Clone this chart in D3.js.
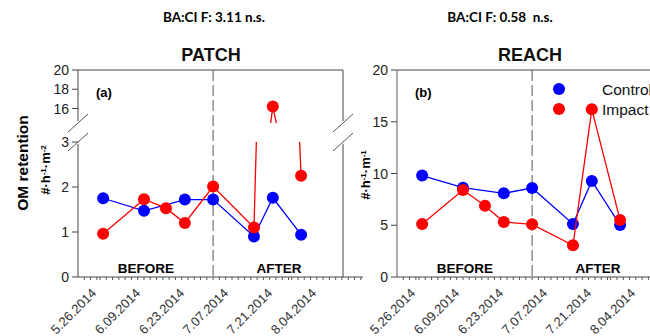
<!DOCTYPE html>
<html>
<head>
<meta charset="utf-8">
<script src="https://cdn.jsdelivr.net/npm/d3@7"></script>
<style>
  body { margin: 0; background: #fff; }
  svg text { font-family: "Liberation Sans", Arial, sans-serif; }
</style>
</head>
<body>
<svg id="chart" width="650" height="336"></svg>
<script>
/*
  BACI time series, patch and reach scale
*/

var sampleDates = ["2014-06-02", "2014-06-15", "2014-06-22", "2014-06-28", "2014-07-07", "2014-07-20", "2014-07-26", "2014-08-04"],
    patchControl = [1.75, 1.47, null, 1.72, 1.72, 0.90, 1.76, 0.94],
    patchImpact = [0.96, 1.73, 1.53, 1.20, 2.01, 1.10, 16.2, 2.25],
    reachControl = [9.80, 8.63, null, 8.09, 8.60, 5.12, 9.28, 5.02],
    reachImpact = [5.12, 8.40, 6.89, 5.31, 5.09, 3.06, 16.2, 5.50],
    tickLabels = ["5.26.2014", "6.09.2014", "6.23.2014", "7.07.2014", "7.21.2014", "8.04.2014"],
    patchLowTicks = [0, 1, 2, 3],
    patchHighTicks = [16, 18, 20],
    reachTicks = [0, 5, 10, 15, 20],
    impactStart = "2014-07-07",
    seriesNames = ["Control", "Impact"],
    seriesColors = ["#0000ff", "#ff0000"];

var plotTop = 70, plotBottom = 277, plotWidth = 265,
    breakLow = 142, breakHigh = 123,
    parseIso = d3.timeParse("%Y-%m-%d"),
    parseTick = d3.timeParse("%m.%d.%Y"),
    svg = d3.select("#chart");

var x = d3.scaleTime()
  .domain([new Date(2014, 4, 25), new Date(2014, 7, 17, 8)])
  .range([0, plotWidth]);

function toPoints(values){
  return values.map(function(v, i){ return {date: parseIso(sampleDates[i]), v: v}; })
    .filter(function(d){ return d.v != null; });
}

function drawXAxis(g){
  // axis line + small ticks every two days
  g.append("line").attr("x1", 0).attr("x2", plotWidth + 20).attr("y1", plotBottom).attr("y2", plotBottom)
    .attr("stroke", "#444").attr("stroke-width", 1);
  g.selectAll(".minor")
    .data(d3.timeDay.every(2).range(new Date(2014, 4, 26), new Date(2014, 7, 24)))
    .enter().append("line")
      .attr("x1", function(d){ return x(d); }).attr("x2", function(d){ return x(d); })
      .attr("y1", plotBottom).attr("y2", plotBottom + 3)
      .attr("stroke", "#555").attr("stroke-width", 1);
  g.selectAll(".xlab")
    .data(tickLabels)
    .enter().append("text")
      .attr("transform", function(d){ return "translate(" + (x(parseTick(d)) + 16) + "," + (plotBottom + 17) + ") rotate(-45)"; })
      .attr("text-anchor", "end")
      .style("font-size", "13px")
      .style("fill", "#333")
      .text(function(d){ return d; });
}

function drawDashed(g){
  g.append("line")
    .attr("x1", x(parseIso(impactStart))).attr("x2", x(parseIso(impactStart)))
    .attr("y1", plotTop).attr("y2", plotBottom)
    .attr("stroke", "#555").attr("stroke-width", 1).attr("stroke-dasharray", "11,4");
}

function drawLabels(g, tag, title){
  g.append("text").attr("x", 18).attr("y", 97)
    .style("font-size", "13px").style("font-weight", "bold").text(tag);
  g.append("text").attr("x", 68).attr("y", plotBottom - 4).attr("text-anchor", "middle")
    .style("font-size", "13.5px").style("font-weight", "bold").text("BEFORE");
  g.append("text").attr("x", 201).attr("y", plotBottom - 4).attr("text-anchor", "middle")
    .style("font-size", "13.5px").style("font-weight", "bold").text("AFTER");
  g.append("text").attr("x", 133).attr("y", 61).attr("text-anchor", "middle")
    .style("font-size", "18px").style("font-weight", "bold").style("fill", "#111").text(title);
}

function breakMarks(g, xPos){
  [breakHigh, breakLow].forEach(function(yb){
    g.append("line").attr("x1", xPos - 10).attr("x2", xPos + 10)
      .attr("y1", yb + 9).attr("y2", yb - 9)
      .attr("stroke", "#555").attr("stroke-width", 1);
  });
}

/* ---------- PATCH (broken y axis) ---------- */
var left = svg.append("g").attr("transform", "translate(78,0)");

var yLow = d3.scaleLinear().domain([0, 3]).range([plotBottom, breakLow]),
    yHigh = d3.scaleLinear().domain([16, 20]).range([108.5, plotTop]);

function yPatch(v){ return v > 3 ? yHigh(v) : yLow(v); }

var defs = svg.append("defs");
defs.append("clipPath").attr("id", "clipLow").append("rect")
  .attr("x", -5).attr("y", breakLow).attr("width", plotWidth + 10).attr("height", plotBottom - breakLow);
defs.append("clipPath").attr("id", "clipHigh").append("rect")
  .attr("x", -5).attr("y", plotTop).attr("width", plotWidth + 10).attr("height", breakHigh - plotTop);

// frame: top, right border, left axis in two pieces
left.append("line").attr("x1", 0).attr("x2", plotWidth).attr("y1", plotTop).attr("y2", plotTop).attr("stroke", "#444");
[[plotTop, breakHigh - 2], [breakLow + 2, plotBottom]].forEach(function(s){
  left.append("line").attr("x1", 0).attr("x2", 0).attr("y1", s[0]).attr("y2", s[1]).attr("stroke", "#444");
  left.append("line").attr("x1", plotWidth).attr("x2", plotWidth).attr("y1", s[0]).attr("y2", s[1]).attr("stroke", "#444");
});
breakMarks(left, 0);
breakMarks(left, plotWidth);

// y ticks
function yTicks(g, ticks, scale){
  var t = g.selectAll(null).data(ticks).enter().append("g")
    .attr("transform", function(d){ return "translate(0," + scale(d) + ")"; });
  t.append("line").attr("x1", -6).attr("x2", 0).attr("stroke", "#444");
  t.append("text").attr("x", -9).attr("dy", "0.36em").attr("text-anchor", "end")
    .style("font-size", "14px").style("fill", "#222").text(function(d){ return d; });
}
yTicks(left, patchLowTicks, yLow);
yTicks(left, patchHighTicks, yHigh);

drawXAxis(left);
drawDashed(left);

[patchControl, patchImpact].forEach(function(values, i){
  var pts = toPoints(values);
  left.append("path").datum(pts).attr("clip-path", "url(#clipLow)")
    .attr("fill", "none").attr("stroke", seriesColors[i]).attr("stroke-width", 1.3)
    .attr("d", d3.line().x(function(d){ return x(d.date); }).y(function(d){ return yLow(d.v); }));
  left.append("path").datum(pts).attr("clip-path", "url(#clipHigh)")
    .attr("fill", "none").attr("stroke", seriesColors[i]).attr("stroke-width", 1.3)
    .attr("d", d3.line().x(function(d){ return x(d.date); }).y(function(d){ return yHigh(d.v); }));
  left.selectAll(null).data(pts).enter().append("circle")
    .attr("cx", function(d){ return x(d.date); })
    .attr("cy", function(d){ return yPatch(d.v); })
    .attr("r", 6).attr("fill", seriesColors[i]);
});

drawLabels(left, "(a)", "PATCH");

/* ---------- REACH ---------- */
var right = svg.append("g").attr("transform", "translate(397,0)");
var yReach = d3.scaleLinear().domain([0, 20]).range([plotBottom, plotTop]);

right.append("line").attr("x1", 0).attr("x2", plotWidth).attr("y1", plotTop).attr("y2", plotTop).attr("stroke", "#444");
right.append("line").attr("x1", 0).attr("x2", 0).attr("y1", plotTop).attr("y2", plotBottom)
  .attr("stroke", "#999").attr("stroke-width", 1.6);
yTicks(right, reachTicks, yReach);

drawXAxis(right);
drawDashed(right);

[reachControl, reachImpact].forEach(function(values, i){
  var pts = toPoints(values);
  right.append("path").datum(pts)
    .attr("fill", "none").attr("stroke", seriesColors[i]).attr("stroke-width", 1.3)
    .attr("d", d3.line().x(function(d){ return x(d.date); }).y(function(d){ return yReach(d.v); }));
  right.selectAll(null).data(pts).enter().append("circle")
    .attr("cx", function(d){ return x(d.date); })
    .attr("cy", function(d){ return yReach(d.v); })
    .attr("r", 6).attr("fill", seriesColors[i]);
});

drawLabels(right, "(b)", "REACH");

// legend
var legend = right.selectAll(".legend").data(seriesNames).enter().append("g")
  .attr("transform", function(d, i){ return "translate(162," + (89 + i * 20) + ")"; });
legend.append("circle").attr("r", 6).attr("fill", function(d, i){ return seriesColors[i]; });
legend.append("text").attr("x", 43).attr("dy", "0.36em")
  .style("font-size", "15.5px").style("fill", "#111").text(function(d){ return d; });

/* ---------- shared texts ---------- */
svg.append("text").attr("x", 214).attr("y", 22).attr("text-anchor", "middle")
  .style("font-family", "Lato, 'Open Sans', sans-serif").style("font-size", "13.5px").style("font-weight", "bold")
  .text("BA:CI F: 3.11 n.s.");
svg.append("text").attr("x", 500).attr("y", 22).attr("text-anchor", "middle")
  .style("font-family", "Lato, 'Open Sans', sans-serif").style("font-size", "13.5px").style("font-weight", "bold")
  .style("white-space", "pre")
  .text("BA:CI F: 0.58  n.s.");

svg.append("text").attr("transform", "translate(28,163) rotate(-90)").attr("text-anchor", "middle")
  .style("font-size", "15.5px").style("font-weight", "bold").text("OM retention");

function unitLabel(xPos, yPos, exp){
  var t = svg.append("text").attr("transform", "translate(" + xPos + "," + yPos + ") rotate(-90)")
    .attr("text-anchor", "middle").style("font-size", "13px").style("font-weight", "bold");
  t.append("tspan").text("#·h");
  t.append("tspan").attr("baseline-shift", "super").style("font-size", "8px").text("-1");
  t.append("tspan").text("·m");
  t.append("tspan").attr("baseline-shift", "super").style("font-size", "8px").text(exp);
}
unitLabel(50, 170, "-2");
unitLabel(370, 175, "-1");
</script>
</body>
</html>
